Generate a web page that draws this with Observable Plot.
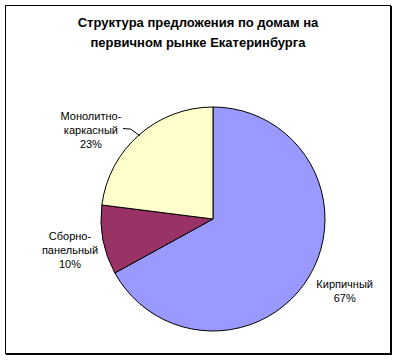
<!DOCTYPE html>
<html>
<head>
<meta charset="utf-8">
<script src="https://cdn.jsdelivr.net/npm/d3@7"></script>
<script src="https://cdn.jsdelivr.net/npm/@observablehq/plot@0.6"></script>
<style>
  html, body { margin: 0; padding: 0; background: #fff; }
  #frame {
    position: absolute; left: 5px; top: 5px;
    width: 384px; height: 347px;
    border: 1px solid #000;
    box-shadow: 1px 1px 0 #000;
    background: #fff;
    overflow: hidden;
  }
  #frame figure { margin: 0; }
  #frame h2 {
    margin: 0; padding-top: 7px; height: 40px;
    font: bold 13px "Liberation Sans", Arial, sans-serif;
    line-height: 20px; text-align: center; white-space: pre-line; color: #000;
  }
  #frame svg { display: block; }
</style>
</head>
<body>
<div id="frame"></div>
<script>
// ---- data ----
const title = "Структура предложения по домам на\nпервичном рынке Екатеринбурга";
const categories = ["Кирпичный", "Сборно-панельный", "Монолитно-каркасный"];
const labelTexts = ["Кирпичный", "Сборно-\nпанельный", "Монолитно-\nкаркасный"];
const values = [67, 10, 23];
const colors = ["#9999ff", "#993366", "#ffffcc"];

// ---- layout ----
const W = 384, H = 300;          // svg size
const CX = 207, CY = 166, R = 112; // pie centre & radius in px
// label placement: [angle shift (deg), radius factor]
const labelLayout = [[-2.3, 1.33], [-1.2, 1.31], [-12.2, 1.36]];

const pie = d3.pie().sort(null).value(d => d)(values);
const mid = a => (a.startAngle + a.endAngle) / 2;

const labels = pie.map((a, i) => {
  const ang = mid(a) + labelLayout[i][0] * Math.PI / 180;
  const rf = labelLayout[i][1];
  return {
    x: rf * Math.sin(ang),
    y: rf * Math.cos(ang),
    text: `${labelTexts[i]}\n${Math.round(values[i] / d3.sum(values) * 100)}%`
  };
});

// leader line for the monolith label (from label side to slice edge)
const mi = 2;
const lab = labels[mi];
const edgeAng = mid(pie[mi]);
const leader = [
  {x: lab.x + 0.29, y: lab.y + 0.005},
  {x: lab.x + 0.355, y: lab.y + 0.0},
  {x: Math.sin(edgeAng), y: Math.cos(edgeAng)}
];

function pieMark(index, scales) {
  const cx = scales.x(0), cy = scales.y(0);
  const r = scales.x(1) - scales.x(0);
  const g = d3.create("svg:g").attr("transform", `translate(${cx},${cy})`);
  g.selectAll("path").data(pie).join("path")
    .attr("d", d3.arc().innerRadius(0).outerRadius(r))
    .attr("fill", (d, i) => colors[i])
    .attr("stroke", "#000")
    .attr("stroke-width", 1);
  return g.node();
}

const chart = Plot.plot({
  title,
  width: W, height: H,
  margin: 0,
  x: {domain: [-CX / R, (W - CX) / R], range: [0, W], axis: null},
  y: {domain: [-(H - CY) / R, CY / R], range: [H, 0], axis: null},
  style: {fontFamily: "'Liberation Sans', Arial, sans-serif", fontSize: "11px", background: "transparent", color: "#000", overflow: "visible"},
  marks: [
    pieMark,
    Plot.line(leader, {x: "x", y: "y", stroke: "#000", strokeWidth: 1, curve: "linear"}),
    Plot.text(labels, {x: "x", y: "y", text: "text", fill: "#000", lineHeight: 14 / 11, textAnchor: "middle", lineAnchor: "middle", fontSize: 11})
  ]
});
document.getElementById("frame").appendChild(chart);
</script>
</body>
</html>
